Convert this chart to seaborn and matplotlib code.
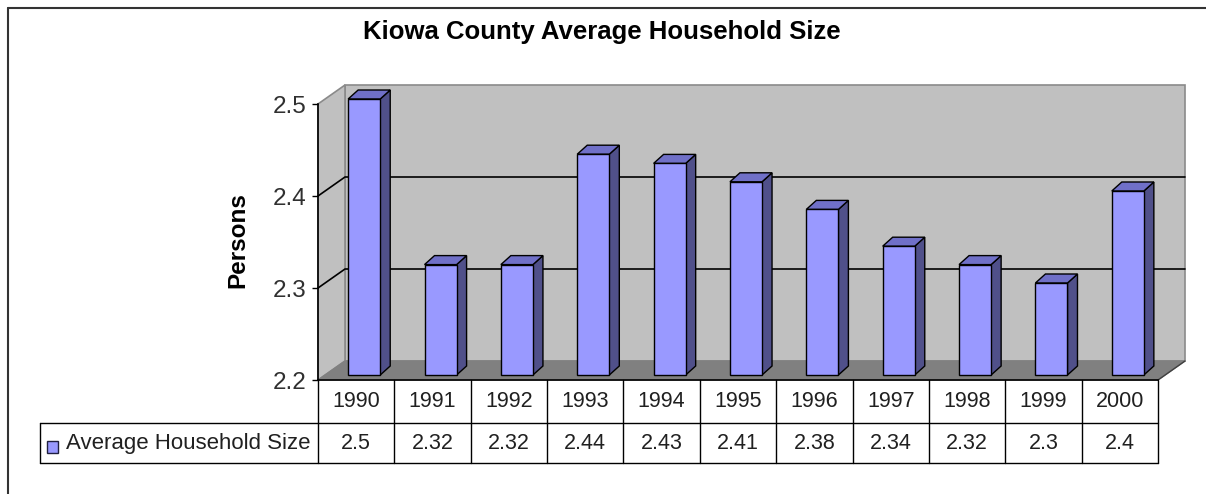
import matplotlib.pyplot as plt
from matplotlib.patches import Polygon, Rectangle
from matplotlib.lines import Line2D
import seaborn as sns
import pandas as pd

# data
years = ['1990', '1991', '1992', '1993', '1994', '1995', '1996', '1997', '1998', '1999', '2000']
household_size = [2.5, 2.32, 2.32, 2.44, 2.43, 2.41, 2.38, 2.34, 2.32, 2.3, 2.4]
value_labels = ['2.5', '2.32', '2.32', '2.44', '2.43', '2.41', '2.38', '2.34', '2.32', '2.3', '2.4']
y_ticks = [2.2, 2.3, 2.4, 2.5]
y_tick_labels = ['2.2', '2.3', '2.4', '2.5']
series_name = 'Average Household Size'
title = 'Kiowa County Average Household Size'

sns.set_theme(style='white')
plt.rcParams['font.family'] = ['Liberation Sans', 'DejaVu Sans']

W, H = 1206, 494
fig = plt.figure(figsize=(W / 100, H / 100), dpi=100)
fig.patch.set_facecolor('white')
ax = fig.add_axes([318 / W, 114 / H, 840 / W, 276 / H])
ax.set_facecolor('none')

df = pd.DataFrame({'year': years, 'size': household_size})
sns.barplot(data=df, x='year', y='size', color='#9999ff', width=0.42,
            errorbar=None, edgecolor='black', linewidth=1, saturation=1, ax=ax)

ymin, ymax = 2.2, 2.5
x_left, x_right = -0.5, len(years) - 0.5
ax.set_xlim(x_left, x_right)
ax.set_ylim(ymin, ymax)

# pixel -> data unit helpers (axes is 840 x 276 px)
xs = len(years) / 840
ys = (ymax - ymin) / 276

# walls and floor of the 3d box
wdx, wdy = 27 * xs, 19 * ys
back = Polygon([(x_left + wdx, ymin + wdy), (x_right + wdx, ymin + wdy),
                (x_right + wdx, ymax + wdy), (x_left + wdx, ymax + wdy)],
               fc='#c0c0c0', ec='#8a8a8a', lw=1.2, zorder=0, clip_on=False)
side_wall = Polygon([(x_left, ymin), (x_left + wdx, ymin + wdy),
                     (x_left + wdx, ymax + wdy), (x_left, ymax)],
                    fc='#c0c0c0', ec='#8a8a8a', lw=1.2, zorder=0, clip_on=False)
floor = Polygon([(x_left, ymin), (x_right, ymin),
                 (x_right + wdx, ymin + wdy), (x_left + wdx, ymin + wdy)],
                fc='#808080', ec='#808080', lw=1, zorder=1, clip_on=False)
for patch in (back, side_wall, floor):
    ax.add_patch(patch)
ax.plot([x_right, x_right + wdx], [ymin, ymin + wdy], color='#404040', lw=1, zorder=1, clip_on=False)

for v in y_ticks[1:-1]:
    ax.plot([x_left, x_left + wdx, x_right + wdx], [v, v + wdy, v + wdy],
            color='black', lw=1.2, zorder=1, clip_on=False)

# turn flat bars into 3d columns
bar_dx, bar_dy = 8 * xs, 5 * ys
side_dx, side_dy = 10 * xs, 9 * ys
bars = list(ax.patches[:len(years)])
for p, v in zip(bars, household_size):
    x0 = p.get_x() + bar_dx
    w = p.get_width()
    y0 = ymin + bar_dy
    y1 = v + bar_dy
    p.set_x(x0)
    p.set_y(y0)
    p.set_height(v - ymin)
    p.set_clip_on(False)
    p.set_zorder(4)
    ax.add_patch(Polygon([(x0 + w, y0), (x0 + w + side_dx, y0 + side_dy),
                          (x0 + w + side_dx, y1 + side_dy), (x0 + w, y1)],
                         fc='#50508a', ec='black', lw=1, zorder=3, clip_on=False))
    ax.add_patch(Polygon([(x0, y1), (x0 + side_dx, y1 + side_dy),
                          (x0 + w + side_dx, y1 + side_dy), (x0 + w, y1)],
                         fc='#7070c8', ec='black', lw=1, zorder=3, clip_on=False))

# axes styling
for s in ('top', 'right'):
    ax.spines[s].set_visible(False)
for s in ('left', 'bottom'):
    ax.spines[s].set_color('black')
    ax.spines[s].set_linewidth(1.2)
    ax.spines[s].set_zorder(5)
ax.set_xticks([])
ax.set_yticks(y_ticks)
ax.set_yticklabels(y_tick_labels)
ax.tick_params(axis='y', left=True, length=4.5, width=1, color='black',
               labelsize=17.5, labelcolor='#303030', pad=3.5)
ax.set_xlabel('')
ax.set_ylabel('')

# data table under the chart
xt = ax.get_xaxis_transform()


def ay(px):
    return (H - px - 114) / 276


row_top, row_mid, row_bot = ay(380), ay(423), ay(463)
legend_left = x_left - (318 - 40) * xs
for i in range(len(years) + 1):
    ax.add_line(Line2D([i - 0.5, i - 0.5], [row_bot, row_top], transform=xt,
                       color='black', lw=1, clip_on=False))
for yy in (row_mid, row_bot):
    ax.add_line(Line2D([legend_left, x_right], [yy, yy], transform=xt,
                       color='black', lw=1, clip_on=False))
ax.add_line(Line2D([legend_left, legend_left], [row_bot, row_mid], transform=xt,
                   color='black', lw=1, clip_on=False))

for i, (yr, lab) in enumerate(zip(years, value_labels)):
    ax.text(i, (row_top + row_mid) / 2, yr, transform=xt, ha='center', va='center',
            fontsize=15.5, color='#202020')
    ax.text(i, (row_mid + row_bot) / 2, lab, transform=xt, ha='center', va='center',
            fontsize=15.5, color='#202020')

ax.add_patch(Rectangle((x_left - (318 - 47) * xs, ay(453)), 11 * xs, 12 / 276,
                       transform=xt, fc='#9999ff', ec='#202040', lw=1, clip_on=False))
ax.text(x_left - (318 - 66) * xs, (row_mid + row_bot) / 2, series_name, transform=xt,
        ha='left', va='center', fontsize=16, color='#202020')

# titles
fig.text(602 / W, 1 - 32 / H, title, ha='center', va='center',
         fontsize=18.5, fontweight='bold', color='black')
fig.text(238 / W, 1 - 240 / H, 'Persons', ha='center', va='center', rotation=90,
         fontsize=17.5, fontweight='bold', color='black')

# outer frame (only top and left edges visible in the crop)
fig.add_artist(Line2D([8 / W, 8 / W], [0, 1 - 8 / H], transform=fig.transFigure,
                      color='#333333', lw=1.5))
fig.add_artist(Line2D([8 / W, 1], [1 - 8 / H, 1 - 8 / H], transform=fig.transFigure,
                      color='#333333', lw=1.5))

fig.savefig('out.png', dpi=100)
